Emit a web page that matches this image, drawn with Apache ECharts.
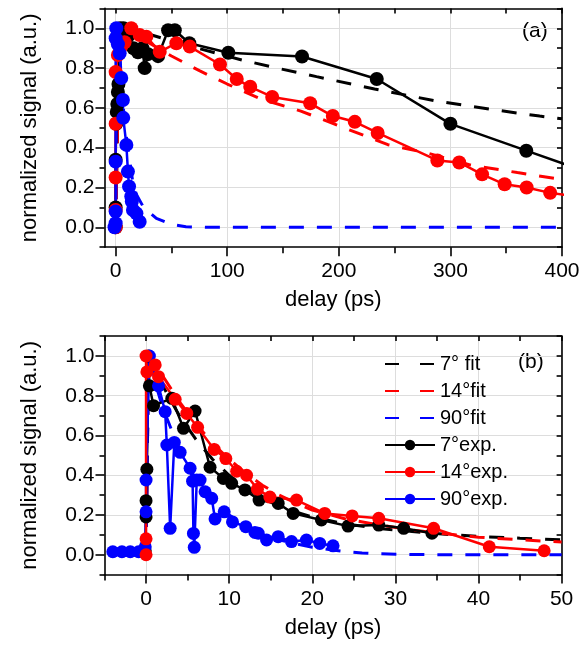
<!DOCTYPE html>
<html>
<head>
<meta charset="utf-8">
<script src="https://cdn.jsdelivr.net/npm/echarts@6/dist/echarts.min.js"></script>
<style>
html,body{margin:0;padding:0;background:#fff;}
#chart{width:582px;height:653px;}
</style>
</head>
<body>
<div id="chart"></div>
<script>
// ---------- Panel (a) data: [delay (ps), normalized signal] ----------
const a7exp = [[0,0.0],[0,0.1],[0,0.34],[0.5,0.52],[1,0.58],[1.5,0.62],[2,0.68],[2.5,0.72],[4,1.0],[7,1.0],[11,0.96],[16,0.9],[20,0.88],[24,0.9],[26,0.8],[29,0.87],[38,0.86],[47,0.99],[53,0.99],[66,0.925],[101,0.877],[167,0.858],[234,0.745],[300,0.52],[368,0.385],[430,0.263]];
const a14exp = [[0,0.0],[0,0.087],[0,0.25],[0,0.52],[0,0.78],[2,0.866],[5,0.908],[8,0.93],[14,1.0],[21.5,0.966],[27.5,0.958],[39.5,0.882],[54.4,0.925],[66.4,0.908],[93.5,0.818],[108.5,0.745],[120.6,0.706],[140.3,0.655],[174.3,0.623],[194.6,0.559],[214.3,0.53],[234.8,0.474],[288.3,0.336],[307.9,0.326],[328.4,0.266],[348.6,0.216],[368.3,0.2],[389.4,0.173],[412,0.155]];
const a90exp = [[-1,0.0],[0,0.02],[0,0.08],[0,0.33],[0,0.95],[0.6,1.0],[2,0.92],[3.6,0.874],[5,0.75],[6.5,0.64],[6.8,0.55],[9.6,0.414],[11,0.28],[12,0.205],[14,0.155],[14.5,0.13],[15.5,0.087],[18.6,0.07],[21.5,0.028]];
const a7fit = [[0,0],[2,0.6],[4,0.95],[6,1.0],[10,1.0],[30,0.97],[60,0.92],[90,0.875],[115,0.838],[148,0.796],[180,0.757],[232,0.695],[287,0.635],[341,0.589],[380,0.559],[400,0.545]];
const a14fit = [[0,0],[2,0.6],[4,0.95],[7,1.0],[15,0.98],[30,0.926],[50,0.861],[75,0.787],[100,0.72],[130,0.645],[166,0.584],[200,0.51],[244,0.415],[280,0.372],[317,0.314],[360,0.275],[400,0.24]];
const a90fit = [[0,0],[1,0.7],[2.5,1.0],[5,0.75],[8,0.52],[12,0.36],[15.5,0.22],[18.6,0.165],[25,0.1],[36.5,0.045],[50,0.015],[63,0.003],[80,0],[400,0]];

// ---------- Panel (b) data ----------
const b7exp = [[-0.1,0.02],[0,0.19],[0,0.272],[0.1,0.43],[0.3,1.0],[0.4,0.85],[0.9,0.75],[3.1,0.787],[4.5,0.636],[5.9,0.723],[7.7,0.44],[9.3,0.384],[10.3,0.359],[11.9,0.326],[13.6,0.275],[15.9,0.258],[17.7,0.208],[21.1,0.175],[24.3,0.144],[28.0,0.149],[31.0,0.133],[34.4,0.108]];
const b14exp = [[0,0.0],[0,0.08],[0,1.0],[0.1,0.92],[1.1,0.955],[1.5,0.896],[3.5,0.782],[4.9,0.711],[6.2,0.641],[8.2,0.53],[9.6,0.484],[10.9,0.42],[12.1,0.40],[13.4,0.33],[14.9,0.29],[18.1,0.275],[21.5,0.208],[24.8,0.195],[28.0,0.183],[34.6,0.133],[41.3,0.04],[47.9,0.02]];
const b90exp = [[-4,0.015],[-2.9,0.015],[-1.9,0.015],[-0.9,0.015],[-0.1,0.04],[0,0.216],[0,0.376],[0.4,1.0],[1.5,0.85],[2.3,0.72],[2.5,0.552],[2.9,0.133],[3.4,0.565],[4.1,0.515],[5.3,0.435],[5.6,0.37],[5.7,0.107],[5.8,0.037],[6.1,0.376],[6.5,0.376],[7.1,0.317],[7.9,0.284],[8.3,0.18],[9.4,0.216],[10.4,0.165],[12.0,0.141],[13.1,0.112],[13.5,0.108],[14.5,0.074],[15.9,0.091],[17.5,0.066],[19.3,0.074],[20.9,0.057],[22.5,0.045]];
const b7fit = [[0,0],[0.3,1.0],[1,0.93],[2,0.85],[4,0.7],[6,0.58],[8,0.48],[10,0.4],[12,0.335],[14,0.285],[16,0.245],[18,0.215],[20,0.19],[24,0.155],[28,0.132],[32,0.117],[36,0.103],[40,0.092],[45,0.083],[50,0.075]];
const b14fit = [[0,0],[0.3,1.0],[1,0.96],[2,0.9],[4,0.77],[6,0.66],[8,0.56],[10,0.48],[12,0.41],[14,0.35],[16,0.3],[18,0.26],[20,0.225],[24,0.18],[28,0.15],[32,0.125],[36,0.105],[40,0.088],[45,0.075],[50,0.064]];
const b90fit = [[0,0],[0.3,0.98],[1,0.88],[2,0.74],[4,0.53],[6,0.38],[8,0.28],[10,0.2],[12,0.145],[14,0.105],[16,0.075],[18,0.055],[20,0.038],[22,0.026],[24,0.016],[26,0.009],[28,0.005],[32,0.001],[36,0],[50,0]];

// ---------- axis ticks ----------
const aXRange = [-10, 400], bXRange = [-5, 50], yRange = [-0.1, 1.1];
const aXMajor = [0,100,200,300,400], aXMinor = [50,150,250,350];
const aXTop = [0,50,100,150,200,250,300,350,400];
const bXMajor = [0,10,20,30,40,50], bXMinor = [-5,5,15,25,35,45];
const bXTop = [-5,0,5,10,15,20,25,30,35,40,45,50];
const yMajor = [0,0.2,0.4,0.6,0.8,1.0], yMinor = [-0.1,0.1,0.3,0.5,0.7,0.9,1.1];
const yAll = [-0.1,0,0.1,0.2,0.3,0.4,0.5,0.6,0.7,0.8,0.9,1.0,1.1];
const fitNames = ['7° fit','14°fit','90°fit'];
const expNames = ['7°exp.','14°exp.','90°exp.'];

const FONT = "'Liberation Sans', Arial, sans-serif";
const AX = {color:'#000', width:1.6};

function xAxes(g, range, major, minor, top) {
  const base = {gridIndex:g, type:'value', min:range[0], max:range[1]};
  return [
    Object.assign({}, base, {position:'bottom',
      name:'delay (ps)', nameLocation:'middle', nameGap:42,
      nameTextStyle:{fontSize:22, color:'#000', fontFamily:FONT},
      axisLine:{onZero:false, lineStyle:AX},
      axisTick:{customValues:major, length:9, lineStyle:AX},
      axisLabel:{customValues:major, fontSize:21, color:'#000', fontFamily:FONT, margin:14},
      splitLine:{show:true, lineStyle:{color:'#dddddd', width:1}}}),
    Object.assign({}, base, {position:'bottom',
      axisLine:{show:false, onZero:false},
      axisTick:{customValues:minor, length:6, lineStyle:AX},
      axisLabel:{show:false}, splitLine:{show:false}}),
    Object.assign({}, base, {position:'top',
      axisLine:{onZero:false, lineStyle:AX},
      axisTick:{inside:true, customValues:top, length:5, lineStyle:AX},
      axisLabel:{show:false}, splitLine:{show:false}})
  ];
}
function yAxes(g) {
  const base = {gridIndex:g, type:'value', min:yRange[0], max:yRange[1]};
  return [
    Object.assign({}, base, {position:'left',
      name:'normalized signal (a.u.)', nameLocation:'middle', nameGap:64,
      nameTextStyle:{fontSize:22, color:'#000', fontFamily:FONT},
      axisLine:{onZero:false, lineStyle:AX},
      axisTick:{customValues:yMajor, length:9, lineStyle:AX},
      axisLabel:{customValues:yMajor, fontSize:21, color:'#000', fontFamily:FONT, margin:10,
        formatter: v => Number(v).toFixed(1)},
      splitLine:{show:true, lineStyle:{color:'#dddddd', width:1}}}),
    Object.assign({}, base, {position:'left',
      axisLine:{show:false, onZero:false},
      axisTick:{customValues:yMinor, length:5, lineStyle:AX},
      axisLabel:{show:false}, splitLine:{show:false}}),
    Object.assign({}, base, {position:'right',
      axisLine:{onZero:false, lineStyle:AX},
      axisTick:{inside:true, customValues:yAll, length:5, lineStyle:AX},
      axisLabel:{show:false}, splitLine:{show:false}})
  ];
}

function fit(name, data, color, xi, yi) {
  return {name, type:'line', data, xAxisIndex:xi, yAxisIndex:yi, symbol:'none',
    lineStyle:{color, width:3, type:[15,13]}, itemStyle:{color}, silent:true, z:2};
}
function exp(name, data, color, xi, yi, size) {
  return {name, type:'line', data, xAxisIndex:xi, yAxisIndex:yi, symbol:'circle', symbolSize:size,
    showSymbol:true, showAllSymbol:true, lineStyle:{color, width:2.5}, itemStyle:{color}, z:3};
}

const legendData = fitNames.map(n => ({name:n,
    itemStyle:{color:'rgba(0,0,0,0)', borderColor:'rgba(0,0,0,0)', borderWidth:0},
    lineStyle:{type:[14,21]}}))
  .concat(expNames.map(n => ({name:n})));

const chart = echarts.init(document.getElementById('chart'), null, {renderer:'canvas'});
chart.setOption({
  animation:false,
  backgroundColor:'#fff',
  grid:[
    {left:104.5, right:20, top:8.4, bottom:405.8, containLabel:false, outerBoundsMode:'none'},
    {left:104.5, right:20.4, top:336.1, bottom:78.4, containLabel:false, outerBoundsMode:'none'}
  ],
  xAxis: xAxes(0, aXRange, aXMajor, aXMinor, aXTop).concat(xAxes(1, bXRange, bXMajor, bXMinor, bXTop)),
  yAxis: yAxes(0).concat(yAxes(1)),
  legend:{data:legendData, orient:'vertical', left:379, top:349, itemWidth:50, itemHeight:13,
    itemGap:7, textStyle:{fontSize:20, color:'#000', fontFamily:FONT}, selectedMode:false},
  graphic:[
    {type:'text', left:522, top:21, style:{text:'(a)', fill:'#000', font:"21px 'Liberation Sans', Arial, sans-serif"}},
    {type:'text', left:518, top:352, style:{text:'(b)', fill:'#000', font:"21px 'Liberation Sans', Arial, sans-serif"}}
  ],
  series:[
    fit('7° fit (a)', a7fit, '#000000', 0, 0),
    fit('14°fit (a)', a14fit, '#ff0000', 0, 0),
    fit('90°fit (a)', a90fit, '#0000ff', 0, 0),
    exp('7°exp. (a)', a7exp, '#000000', 0, 0, 14),
    exp('14°exp. (a)', a14exp, '#ff0000', 0, 0, 14),
    exp('90°exp. (a)', a90exp, '#0000ff', 0, 0, 14),
    fit('7° fit', b7fit, '#000000', 3, 3),
    fit('14°fit', b14fit, '#ff0000', 3, 3),
    fit('90°fit', b90fit, '#0000ff', 3, 3),
    exp('7°exp.', b7exp, '#000000', 3, 3, 13),
    exp('90°exp.', b90exp, '#0000ff', 3, 3, 13),
    exp('14°exp.', b14exp, '#ff0000', 3, 3, 13)
  ]
});
</script>
</body>
</html>
